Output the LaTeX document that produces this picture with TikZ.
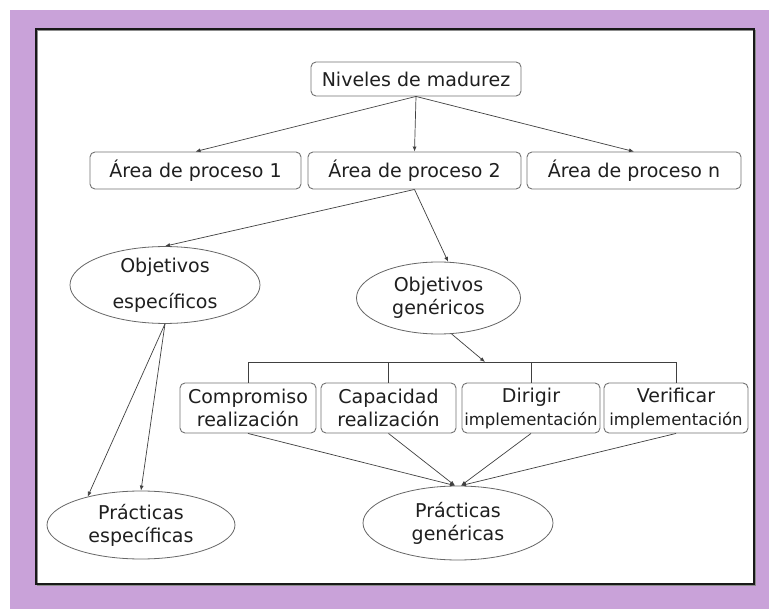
\documentclass[tikz,border=0pt]{standalone}
\usepackage{fontspec}
\setmainfont{DejaVu Sans}
\usetikzlibrary{shapes.geometric,arrows.meta}
\definecolor{bgpurple}{HTML}{C9A2D9}
\begin{document}
\begin{tikzpicture}[x=1pt,y=-1pt,
  txt/.style={font=\fontsize{19}{23}\selectfont, text=black!88},
  rbox/.style={draw=black!55, line width=0.9pt, rounded corners=5pt, fill=white, inner sep=0pt, align=center},
  ell/.style={draw=black!60, line width=0.8pt, ellipse, inner sep=0pt, txt, align=center},
  conn/.style={draw=black!75, line width=0.7pt},
  arr/.style={conn, -{Latex[length=5pt,width=4pt]}}]
\useasboundingbox (0,0) rectangle (769,609);
\fill[white] (0,0) rectangle (769,609);
\fill[bgpurple] (10,10) rectangle (769,609);
\fill[white] (36,29) rectangle (754,584);
\draw[black!45, line width=1.2pt] (37.5,30.5) rectangle (755.5,585.5);
\draw[black!90, line width=1.3pt] (36,29) rectangle (754,584);

% top
\node[rbox, txt, minimum width=210pt, minimum height=34pt] (niv) at (416,79) {Niveles de madurez};
\node[rbox, txt, minimum width=211pt, minimum height=37pt] (a1) at (195.5,170.5) {Área de proceso 1};
\node[rbox, txt, minimum width=213pt, minimum height=37pt] (a2) at (414.5,170.5) {Área de proceso 2};
\node[rbox, txt, minimum width=214pt, minimum height=37pt] (an) at (634,170.5) {Área de proceso n};

% objectives
\node[ell, minimum width=190pt, minimum height=74pt] (oe) at (165,285) {Objetivos\\[13pt]específicos};
\node[ell, minimum width=164pt, minimum height=72pt] (og) at (438.5,298) {Objetivos\\genéricos};

% generic boxes
\node[rbox, txt, minimum width=136pt, minimum height=50pt] (b1) at (248,408) {Compromiso\\realización};
\node[rbox, txt, minimum width=135pt, minimum height=50pt] (b2) at (388.5,408) {Capacidad\\realización};
\node[rbox, txt, minimum width=138pt, minimum height=50pt] (b3) at (531,408) {Dirigir\\{\fontsize{16.5}{22}\selectfont implementación}};
\node[rbox, txt, minimum width=144pt, minimum height=50pt] (b4) at (676,408) {Verificar\\{\fontsize{16.5}{22}\selectfont implementación}};

% practices
\node[ell, minimum width=188pt, minimum height=68pt] (pe) at (141,525) {Prácticas\\específicas};
\node[ell, minimum width=190pt, minimum height=74pt] (pg) at (458,523) {Prácticas\\genéricas};

% bus
\coordinate (busL) at (b1.north |- 0,362);
\coordinate (busR) at (b4.north |- 0,362);
\coordinate (busA) at (485,362);
\draw[conn] (b1.north) -- (busL) -- (busR) -- (b4.north);
\draw[conn] (b2.north) -- (b2.north |- busL);
\draw[conn] (b3.north) -- (b3.north |- busL);

% connectors
\draw[arr] (niv.south) -- (a1.north);
\draw[arr] (niv.south) -- (a2.north);
\draw[arr] (niv.south) -- (an.north);
\draw[arr] (a2.south) -- (oe.north);
\draw[arr] (a2.south) -- (og.75);
\draw[arr] (og.-70) -- (busA);
\draw[arr] (oe.south) -- (pe.152);
\draw[arr] (oe.south) -- (pe.north);
\coordinate (pgl) at ([xshift=-3pt]pg.north);
\coordinate (pgr) at ([xshift=3pt]pg.north);
\draw[arr] (b1.south) -- (pgl);
\draw[arr] (b2.south) -- (pgl);
\draw[arr] (b3.south) -- (pgr);
\draw[arr] (b4.south) -- (pgr);
\end{tikzpicture}
\end{document}
